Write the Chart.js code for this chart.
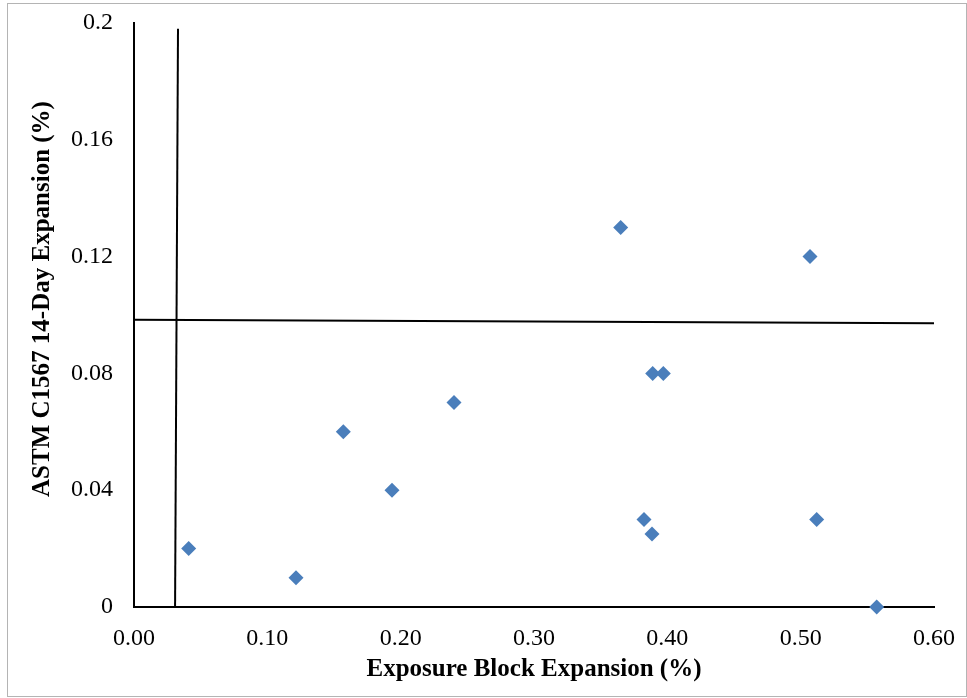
<!DOCTYPE html>
<html>
<head>
<meta charset="utf-8">
<script src="https://cdn.jsdelivr.net/npm/chart.js@4.4.1/dist/chart.umd.min.js"></script>
<style>
  html, body { margin: 0; padding: 0; background: #fff; }
  #wrap { position: relative; width: 967px; height: 698px; }
  #frame { position: absolute; left: 7px; top: 3px; width: 958px; height: 692px; border: 1px solid #b4b4b4; pointer-events: none; }
</style>
</head>
<body>
<div id="wrap">
  <canvas id="scatterChart" width="967" height="698"></canvas>
  <div id="frame"></div>
</div>
<script>
// exposure block expansion (%) vs ASTM C1567 14-day expansion (%)
const blockExpansion = [0.041, 0.1215, 0.157, 0.1935, 0.24, 0.365, 0.3825, 0.3885, 0.389, 0.397, 0.507, 0.512, 0.557];
const astmExpansion = [0.02, 0.01, 0.06, 0.04, 0.07, 0.13, 0.03, 0.025, 0.08, 0.08, 0.12, 0.03, 0];

// hand drawn limit lines
const limitVertX = [0.0308, 0.033];
const limitVertY = [0, 0.198];
const limitHorzX = [0, 0.6];
const limitHorzY = [0.0984, 0.0972];

const xTicks = [0, 0.1, 0.2, 0.3, 0.4, 0.5, 0.6];
const yTicks = [0, 0.04, 0.08, 0.12, 0.16, 0.2];

const xTitle = 'Exposure Block Expansion (%)';
const yTitle = 'ASTM C1567 14-Day Expansion (%)';

const toPoints = (xs, ys) => xs.map((x, i) => ({ x: x, y: ys[i] }));

const serif = 'Liberation Serif';

// y title sits a bit above the middle of the axis, so draw it by hand
const yTitlePlugin = {
    id: 'yTitle',
    afterDraw(chart) {
        const area = chart.chartArea;
        const c = chart.ctx;
        c.save();
        c.translate(43, (area.top + area.bottom) / 2 - 16);
        c.rotate(-Math.PI / 2);
        c.fillStyle = '#000';
        c.font = 'bold 25px "' + serif + '"';
        c.textAlign = 'center';
        c.textBaseline = 'middle';
        c.fillText(yTitle, 0, 0);
        c.restore();
    }
};

const noEdgePadding = (scale) => {
    scale.paddingTop = 0;
    scale.paddingBottom = 0;
    scale.paddingLeft = 0;
    scale.paddingRight = 0;
};

const ctx = document.getElementById('scatterChart').getContext('2d');
const scatterChart = new Chart(ctx, {
    type: 'scatter',
    data: {
        datasets: [
            {
                label: 'Expansion',
                data: toPoints(blockExpansion, astmExpansion),
                pointStyle: 'rectRot',
                pointRadius: 7.5,
                pointHoverRadius: 7.5,
                backgroundColor: '#4a7ebb',
                borderWidth: 0,
                clip: false
            },
            {
                label: 'Limit 1',
                type: 'line',
                data: toPoints(limitVertX, limitVertY),
                borderColor: '#000',
                borderWidth: 2,
                pointRadius: 0,
                fill: false
            },
            {
                label: 'Limit 2',
                type: 'line',
                data: toPoints(limitHorzX, limitHorzY),
                borderColor: '#000',
                borderWidth: 2,
                pointRadius: 0,
                fill: false
            }
        ]
    },
    options: {
        responsive: false,
        animation: false,
        devicePixelRatio: 1,
        layout: { padding: { left: 0, right: 33, top: 23, bottom: 0 } },
        plugins: {
            legend: { display: false },
            tooltip: { enabled: false }
        },
        scales: {
            x: {
                type: 'linear',
                min: 0,
                max: 0.6,
                afterFit: (scale) => { scale.height = 91; noEdgePadding(scale); },
                afterBuildTicks: (scale) => { scale.ticks = xTicks.map(v => ({ value: v })); },
                grid: { display: false, drawTicks: false },
                border: { display: true, color: '#000', width: 2 },
                ticks: {
                    padding: 17,
                    color: '#000',
                    font: { family: serif, size: 24 },
                    callback: (v) => v.toFixed(2)
                },
                title: {
                    display: true,
                    text: xTitle,
                    color: '#000',
                    font: { family: serif, size: 25, weight: 'bold' },
                    padding: { top: 0, bottom: 13 }
                }
            },
            y: {
                type: 'linear',
                min: 0,
                max: 0.2,
                afterFit: (scale) => { scale.width = 134; noEdgePadding(scale); },
                afterBuildTicks: (scale) => { scale.ticks = yTicks.map(v => ({ value: v })); },
                grid: { display: false, drawTicks: false },
                border: { display: true, color: '#000', width: 2 },
                ticks: {
                    padding: 21,
                    color: '#000',
                    font: { family: serif, size: 24 },
                    callback: (v) => String(+v.toFixed(2))
                }
            }
        }
    },
    plugins: [yTitlePlugin]
});
</script>
</body>
</html>
